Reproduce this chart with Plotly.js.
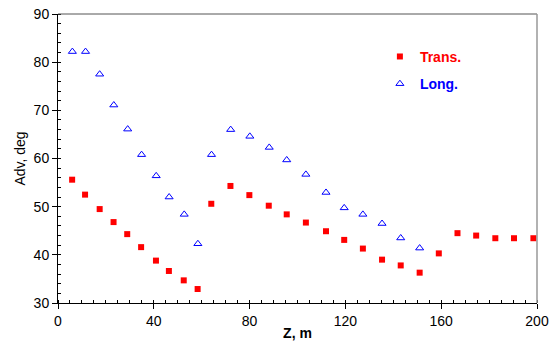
<!DOCTYPE html>
<html>
<head>
<meta charset="utf-8">
<script src="https://cdn.plot.ly/plotly-3.0.1.min.js"></script>
<style>html,body{margin:0;padding:0;background:#fff;}#chart{width:550px;height:341px;}</style>
</head>
<body>
<div id="chart"></div>
<script>
// Trans. series
const transZ = [5.9, 11.3, 17.4, 23.2, 28.9, 34.7, 40.9, 46.3, 52.5, 58.3, 64.0, 72.0, 79.9, 88.0, 95.5, 103.5, 111.9, 119.5, 127.3, 135.3, 143.1, 151.0, 159.0, 166.8, 174.6, 182.6, 190.4, 198.5];
const transAdv = [55.6, 52.5, 49.5, 46.8, 44.3, 41.6, 38.8, 36.65, 34.7, 32.9, 50.6, 54.3, 52.4, 50.2, 48.4, 46.7, 44.9, 43.1, 41.3, 39.0, 37.8, 36.3, 40.3, 44.5, 44.0, 43.45, 43.45, 43.45];
// Long. series
const longZ = [6.0, 11.5, 17.4, 23.3, 29.1, 34.9, 41.0, 46.4, 52.7, 58.4, 64.1, 72.1, 80.1, 88.2, 95.5, 103.5, 111.9, 119.5, 127.3, 135.3, 143.1, 151.0];
const longAdv = [82.2, 82.2, 77.5, 71.1, 66.1, 60.8, 56.4, 52.0, 48.4, 42.3, 60.8, 66.0, 64.6, 62.3, 59.7, 56.7, 52.95, 49.75, 48.4, 46.5, 43.5, 41.4];
const xTicks = [0, 40, 80, 120, 160, 200];
const yTicks = [30, 40, 50, 60, 70, 80, 90];

const font = 'Liberation Sans, Arial, sans-serif';

const traces = [
  {
    x: transZ, y: transAdv, type: 'scatter', mode: 'markers',
    name: '<span style="color:#ff0000"><b>Trans.</b></span>',
    marker: {symbol: 'square', size: 6, color: '#ff0000'},
    legendgroup: 'a'
  },
  {
    x: longZ, y: longAdv, type: 'scatter', mode: 'markers',
    name: '<span style="color:#0000ff"><b>Long.</b></span>',
    marker: {symbol: 'triangle-up-open', size: 7, color: '#0000ff', line: {width: 1, color: '#0000ff'}},
    legendgroup: 'b'
  }
];

const layout = {
  width: 550, height: 341,
  margin: {l: 58, r: 13, t: 14, b: 38},
  paper_bgcolor: '#ffffff', plot_bgcolor: '#ffffff',
  font: {family: font, size: 14, color: '#000'},
  showlegend: true,
  legend: {x: 0.672, y: 0.907, xanchor: 'left', yanchor: 'top', bgcolor: 'rgba(0,0,0,0)',
           font: {family: font, size: 14}, tracegroupgap: 6, itemwidth: 30},
  xaxis: {
    range: [0, 200], tickvals: xTicks, ticktext: xTicks.map(String),
    showgrid: false, zeroline: false, showline: true, linecolor: '#000', linewidth: 1,
    ticks: 'outside', ticklen: 5, tickcolor: '#000',
    minor: {dtick: 5, tick0: 0, ticks: 'inside', ticklen: 3, tickcolor: '#000', showgrid: false},
    title: {text: '<b>Z, m</b>', font: {family: font, size: 14}, standoff: 12}
  },
  yaxis: {
    range: [30, 90], tickvals: yTicks, ticktext: yTicks.map(String),
    showgrid: false, zeroline: false, showline: true, linecolor: '#000', linewidth: 1,
    ticks: 'outside', ticklen: 5, tickcolor: '#000',
    minor: {dtick: 2, tick0: 30, ticks: 'inside', ticklen: 3, tickcolor: '#000', showgrid: false},
    title: {text: 'Adv, deg', font: {family: font, size: 14}, standoff: 4}
  },
  shapes: [
    {type: 'line', xref: 'paper', yref: 'paper', x0: 0, x1: 1, y0: 1, y1: 1, line: {color: '#555', width: 1}},
    {type: 'line', xref: 'paper', yref: 'paper', x0: 1, x1: 1, y0: 0, y1: 1, line: {color: '#999', width: 1.5}}
  ]
};

Plotly.newPlot('chart', traces, layout, {displayModeBar: false, staticPlot: true});
</script>
</body>
</html>
